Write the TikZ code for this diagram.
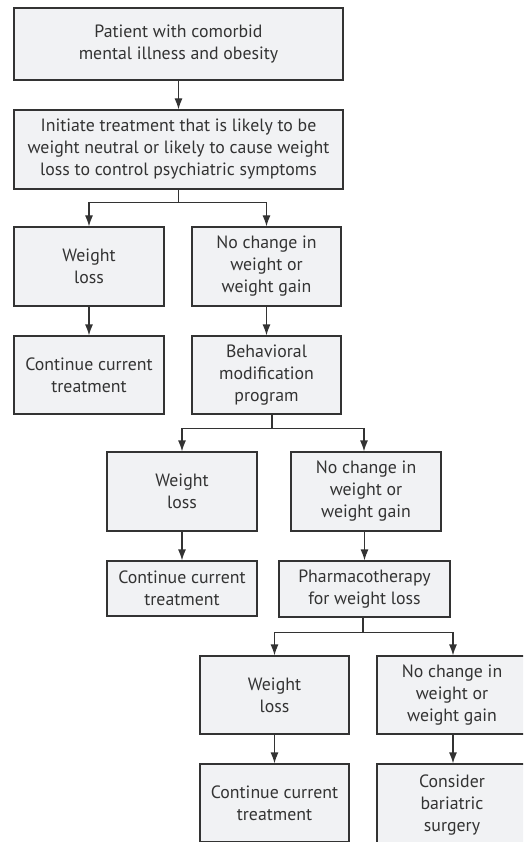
\documentclass[tikz,border=0pt]{standalone}
\usepackage{fontspec}
\setmainfont{PT Sans}
\usepackage{tikz}
\usetikzlibrary{arrows.meta,positioning,calc}
\definecolor{boxfill}{HTML}{F1F2F4}
\definecolor{boxline}{HTML}{333333}
\tikzstyle{block}=[draw=boxline,fill=boxfill,line width=1.2pt,align=center,inner sep=0pt,
  font=\fontsize{17.8}{22}\selectfont,text=boxline]
\tikzstyle{arr}=[draw=boxline,line width=1.2pt,-{Latex[length=11pt,width=8pt]}]

\begin{document}
\begin{tikzpicture}[x=1pt,y=-1pt]
    \useasboundingbox (0,0) rectangle (523,842);
    \clip (0,0) rectangle (523,842);
    % first two steps
    \node [block,minimum width=329pt,minimum height=72pt] (patient) at (178.5,44)
      {Patient with comorbid\\mental illness and obesity};
    \node [block,minimum width=329pt,minimum height=79pt] (initiate) at (178.5,149.5)
      {Initiate treatment that is likely to be\\weight neutral or likely to cause weight\\loss to control psychiatric symptoms};
    % first branch
    \node [block,minimum width=150pt,minimum height=79pt] (lossA) at (89,266.5) {Weight\\loss};
    \node [block,minimum width=149pt,minimum height=79pt] (gainA) at (266.5,266.5)
      {No change in\\weight or\\weight gain};
    \node [block,minimum width=150pt,minimum height=78pt] (contA) at (89,375)
      {Continue current\\treatment};
    \node [block,minimum width=149pt,minimum height=78pt] (behav) at (266.5,375)
      {Behavioral\\modification\\program};
    % second branch
    \node [block,minimum width=150pt,minimum height=79pt] (lossB) at (182,491.5) {Weight\\loss};
    \node [block,minimum width=150pt,minimum height=79pt] (gainB) at (366,491.5)
      {No change in\\weight or\\weight gain};
    \node [block,minimum width=150pt,minimum height=55pt] (contB) at (182,588.5)
      {Continue current\\treatment};
    \node [block,minimum width=171pt,minimum height=56pt] (pharma) at (364.5,589)
      {Pharmacotherapy\\for weight loss};
    % third branch
    \node [block,minimum width=149pt,minimum height=78pt] (lossC) at (274.5,695) {Weight\\loss};
    \node [block,minimum width=150pt,minimum height=78pt] (gainC) at (452,695)
      {No change in\\weight or\\weight gain};
    \node [block,minimum width=149pt,minimum height=78pt] (contC) at (274.5,803)
      {Continue current\\treatment};
    \node [block,minimum width=150pt,minimum height=82pt] (surgery) at (452,805)
      {Consider\\bariatric\\surgery};
    % connectors
    \draw [arr] (patient) -- (initiate);
    \draw [arr] (initiate.south) -- ++(0,13) -| (lossA.north);
    \draw [arr] (initiate.south) -- ++(0,13) -| (gainA.north);
    \draw [arr] (lossA) -- (contA);
    \draw [arr] (gainA) -- (behav);
    \draw [arr] ($(behav.south)+(5.5,0)$) -- ++(0,14) -| (lossB.north);
    \draw [arr] ($(behav.south)+(5.5,0)$) -- ++(0,14) -| ($(gainB.north)+(-2,0)$);
    \draw [arr] (lossB) -- (contB);
    \draw [arr] (gainB.south -| pharma.north) -- (pharma.north);
    \draw [arr] ($(pharma.south)+(-1.5,0)$) -- ++(0,15) -| (lossC.north);
    \draw [arr] ($(pharma.south)+(-1.5,0)$) -- ++(0,15) -| ($(gainC.north)+(1,0)$);
    \draw [arr] (lossC) -- (contC);
    \draw [arr] ($(gainC.south)+(1,0)$) -- ($(surgery.north)+(1,0)$);
\end{tikzpicture}
\end{document}
